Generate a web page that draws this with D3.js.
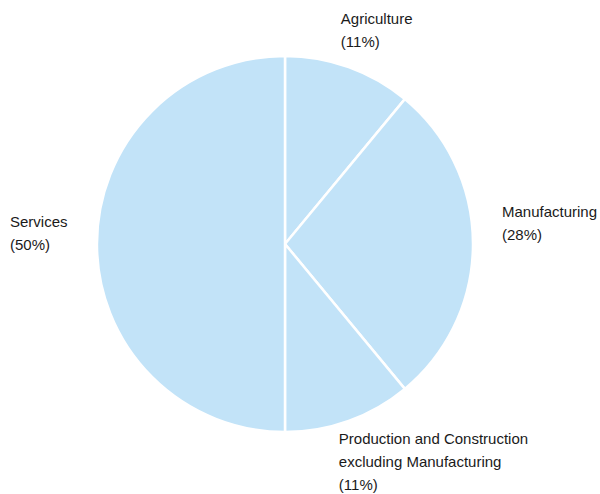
<!DOCTYPE html>
<html>
<head>
<meta charset="utf-8">
<script src="https://cdn.jsdelivr.net/npm/d3@7"></script>
<style>
  html, body { margin: 0; padding: 0; background: #fff; }
  svg { display: block; }
  text { font-family: "Liberation Sans", Arial, sans-serif; font-size: 15px; fill: #1a1a1a; }
</style>
</head>
<body>
<svg id="chart" width="600" height="494"></svg>
<script>
// Share of employment by sector
const sectors = ["Agriculture", "Manufacturing", "Production and Construction excluding Manufacturing", "Services"];
const shares = [11, 28, 11, 50];
// label text broken into lines
const labelLines = [
  ["Agriculture"],
  ["Manufacturing"],
  ["Production and Construction", "excluding Manufacturing"],
  ["Services"]
];

const width = 600, height = 494;
const cx = 285, cy = 244, radius = 188;
const lineHeight = 23;

const svg = d3.select("#chart");
const g = svg.append("g").attr("transform", `translate(${cx},${cy})`);

const pie = d3.pie().sort(null).value(d => d.value);
const arcs = pie(sectors.map((s, i) => ({ name: s, value: shares[i], lines: labelLines[i] })));
const arc = d3.arc().innerRadius(0).outerRadius(radius);

g.selectAll("path.slice")
  .data(arcs)
  .join("path")
  .attr("class", "slice")
  .attr("d", arc)
  .attr("fill", "#c2e3f8")
  .attr("stroke", "#ffffff")
  .attr("stroke-width", 2.5)
  .attr("stroke-linejoin", "round");

// labels sit just outside the rim at each slice's mid angle
const labelRadius = radius + 30;
const nudge = [[-18, -15], [-1, -27], [-20, -5], [0, -17]];

const labels = g.selectAll("text.lbl")
  .data(arcs)
  .join("text")
  .attr("class", "lbl")
  .each(function(d, i) {
    const a = (d.startAngle + d.endAngle) / 2;
    const px = Math.sin(a) * labelRadius + nudge[i][0];
    const py = -Math.cos(a) * labelRadius + nudge[i][1];
    const left = Math.sin(a) < -0.5;
    const t = d3.select(this)
      .attr("text-anchor", "start")
      .attr("x", left ? px - 57 : px)
      .attr("y", py);
    const lines = d.data.lines.concat([`(${d.data.value}%)`]);
    lines.forEach((ln, k) => {
      t.append("tspan")
        .attr("x", left ? px - 57 : px)
        .attr("dy", k === 0 ? 0 : lineHeight)
        .text(ln);
    });
  });
</script>
</body>
</html>
